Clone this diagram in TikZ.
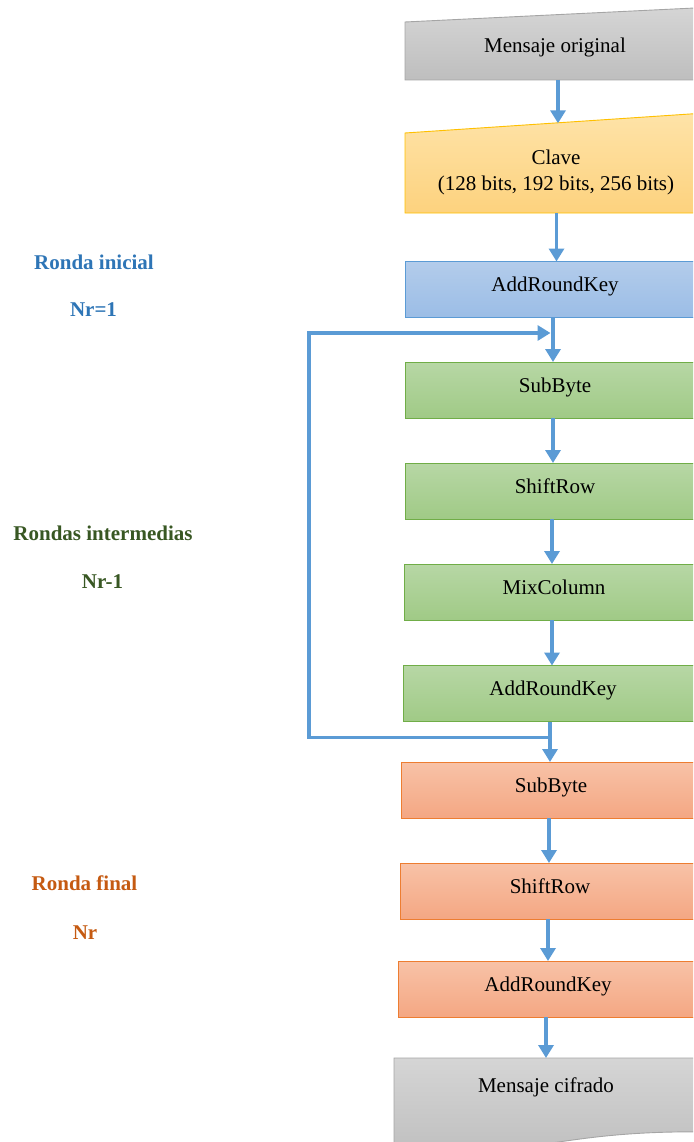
\documentclass[tikz,border=0pt]{standalone}
\usepackage{fontspec}
\setmainfont{Liberation Serif}
\usetikzlibrary{arrows.meta,calc}

% palette
\definecolor{flowc}{HTML}{5B9BD5}
\definecolor{grayt}{HTML}{D5D5D5}
\definecolor{grayd}{HTML}{BEBEBE}
\definecolor{grayb}{HTML}{A5A5A5}
\definecolor{yelt}{HTML}{FEE3A8}
\definecolor{yeld}{HTML}{FDD27E}
\definecolor{yelb}{HTML}{FFC000}
\definecolor{blut}{HTML}{B3CCEB}
\definecolor{blud}{HTML}{9BBDE6}
\definecolor{blub}{HTML}{5B9BD5}
\definecolor{grnt}{HTML}{B7D7A5}
\definecolor{grnd}{HTML}{A0CA86}
\definecolor{grnb}{HTML}{70AD47}
\definecolor{orgt}{HTML}{F8C2A7}
\definecolor{orgd}{HTML}{F4A783}
\definecolor{orgb}{HTML}{ED7D31}
\definecolor{tagblue}{HTML}{2E75B6}
\definecolor{taggreen}{HTML}{385723}
\definecolor{tagorange}{HTML}{C55A11}

\tikzset{
  boxfont/.style={font=\fontsize{21}{25.7}\selectfont},
  stage/.style={rectangle, minimum width=300, minimum height=56, inner sep=0,
    outer sep=0, line width=0.9pt, boxfont, text height=14, text depth=10},
  holder/.style={rectangle, minimum width=300, inner sep=0, outer sep=0},
  bluebox/.style={stage, draw=blub, top color=blut, bottom color=blud},
  greenbox/.style={stage, draw=grnb, top color=grnt, bottom color=grnd},
  orangebox/.style={stage, draw=orgb, top color=orgt, bottom color=orgd},
  grayshape/.style={draw=grayb, line width=0.9pt, top color=grayt, bottom color=grayd},
  yellowshape/.style={draw=yelb, line width=0.9pt, top color=yelt, bottom color=yeld},
  boxtext/.style={boxfont, inner sep=0},
  tag/.style={font=\fontsize{21}{25}\selectfont\bfseries, inner sep=0, anchor=base},
  flow/.style={draw=flowc, line width=3.6pt, -{Triangle[width=15pt,length=13pt]}},
  loopline/.style={draw=flowc, line width=3.6pt}
}

\begin{document}
\begin{tikzpicture}[x=1pt,y=-1pt]
\useasboundingbox (0,0) rectangle (693,1142);
\clip (0,0) rectangle (693,1142);

% plaintext input (manual-input shape)
\node[holder, minimum height=72.5, anchor=south west] (mo) at (405,80) {};
\path[grayshape] (mo.south west) -- ++(0,-58) -- (mo.north east) -- (mo.south east) -- cycle;
\node[boxtext, anchor=base] (mo-text) at (555,52.3) {Mensaje original};

% key input (manual-input shape)
\node[holder, minimum height=100, anchor=south west] (cl) at (405,213) {};
\path[yellowshape] (cl.south west) -- ++(0,-80) -- (cl.north east) -- (cl.south east) -- cycle;
\node[boxtext, anchor=base] (cl-name) at (556,165) {Clave};
\node[boxtext, anchor=base] (cl-size) at (556,190.7) {(128 bits, 192 bits, 256 bits)};
\coordinate (cl-in) at (558,123.3);

% initial round
\node[bluebox] (ark0) at (555,289.5) {AddRoundKey};

% middle rounds
\node[greenbox] (sb1)  at (555,390)   {SubByte};
\node[greenbox] (sr1)  at (555,491)   {ShiftRow};
\node[greenbox] (mix)  at (554,592)   {MixColumn};
\node[greenbox] (ark1) at (553,693.5) {AddRoundKey};

% final round
\node[orangebox] (sb2)  at (551,790) {SubByte};
\node[orangebox] (sr2)  at (550,891) {ShiftRow};
\node[orangebox] (ark2) at (548,989) {AddRoundKey};

% ciphertext output (document shape)
\node[holder, minimum width=302, minimum height=92, anchor=north west] (out) at (394,1058) {};
\path[grayshape] (out.north west) -- (out.north east)
  -- ($(out.north east)!0.802!(out.south east)$)
  .. controls ($(out.north)!0.802!(out.south)$) and ($(out.north)!1.1075!(out.south)$)
  .. ($(out.north west)!0.934!(out.south west)$) -- cycle;
\node[boxtext, anchor=base] (out-text) at (546,1092) {Mensaje cifrado};

% round labels
\node[tag, text=tagblue]   (lab-ini)  at (94,269)    {Ronda inicial};
\node[tag, text=tagblue]   (lab-ini-n) at (93.5,316) {Nr=1};
\node[tag, text=taggreen]  (lab-mid)  at (103,540)   {Rondas intermedias};
\node[tag, text=taggreen]  (lab-mid-n) at (102.5,588) {Nr-1};
\node[tag, text=tagorange] (lab-fin)  at (84.5,890)  {Ronda final};
\node[tag, text=tagorange] (lab-fin-n) at (85,939)   {Nr};

% main flow
\draw[flow] ([xshift=3]mo.south) -- (cl-in);
\draw[flow] ([xshift=1.5]ark0.north |- cl.south) -- ([xshift=1.5]ark0.north);
\draw[flow] ([xshift=-2]ark0.south) -- ([xshift=-2]sb1.north);
\draw[flow] ([xshift=-2]sb1.south) -- ([xshift=-2]sr1.north);
\draw[flow] ([xshift=-3]sr1.south) -- ([xshift=-3]sr1.south |- mix.north);
\draw[flow] ([xshift=-2]mix.south) -- ([xshift=-2]mix.south |- ark1.north);
\draw[flow] ([xshift=-3]ark1.south) -- ([xshift=-3]ark1.south |- sb2.north);
\draw[flow] ([xshift=-2]sb2.south) -- ([xshift=-2]sb2.south |- sr2.north);
\draw[flow] ([xshift=-2]sr2.south) -- ([xshift=-2]sr2.south |- ark2.north);
\draw[flow] ([xshift=-2]ark2.south) -- ([xshift=-2]ark2.south |- out.north);

% loop back over the middle rounds
\coordinate (split) at ([xshift=-1.5,yshift=-16]ark1.south);
\coordinate (merge) at ([xshift=-4.5,yshift=-15.5]ark0.south);
\draw[loopline, line join=miter] (split) -- (split -| 309,0) -- (309,333) -- ++(10,0);
\draw[flow] (309,333) -- (merge);
\end{tikzpicture}
\end{document}
